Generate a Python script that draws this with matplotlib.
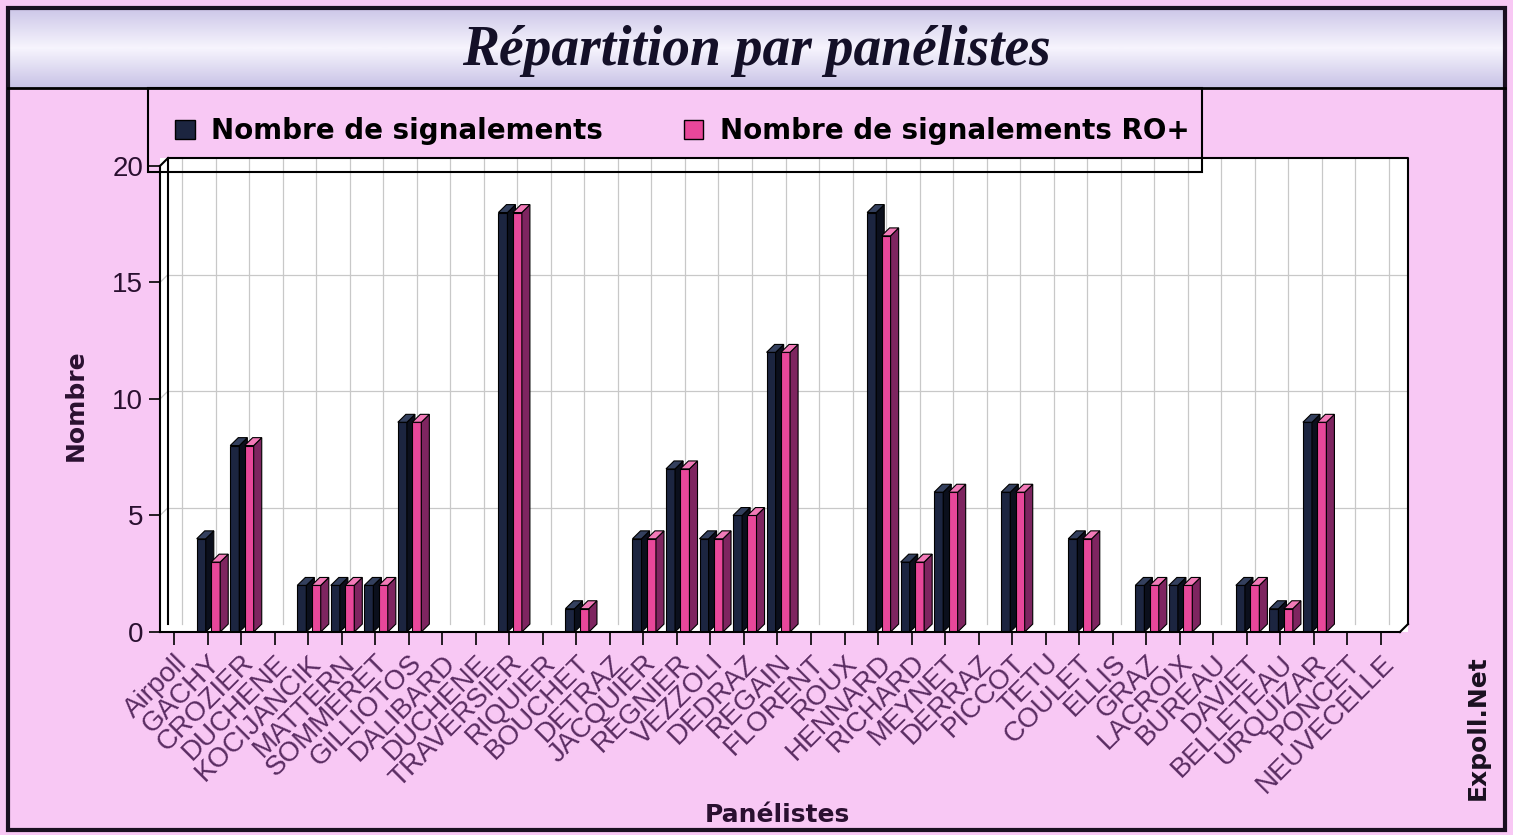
import numpy as np
import matplotlib.pyplot as plt
from matplotlib.patches import Rectangle, Patch
from matplotlib.colors import LinearSegmentedColormap

W, H = 1513, 835

panelistes = ['Airpoll', 'GACHY', 'CROZIER', 'DUCHENE', 'KOCIJANCIK', 'MATTERN',
              'SOMMERET', 'GILLIOTOS', 'DALIBARD', 'DUCHENE', 'TRAVERSIER', 'RIQUIER',
              'BOUCHET', 'DETRAZ', 'JACQUIER', 'REGNIER', 'VEZZOLI', 'DEDRAZ',
              'REGAIN', 'FLORENT', 'ROUX', 'HENNARD', 'RICHARD', 'MEYNET', 'DERRAZ',
              'PICCOT', 'TETU', 'COULET', 'ELLIS', 'GRAZ', 'LACROIX', 'BUREAU',
              'DAVIET', 'BELLETEAU', 'URQUIZAR', 'PONCET', 'NEUVECELLE']
signalements = [0, 4, 8, 0, 2, 2, 2, 9, 0, 0, 18, 0, 1, 0, 4, 7, 4, 5, 12, 0, 0,
                18, 3, 6, 0, 6, 0, 4, 0, 2, 2, 0, 2, 1, 9, 0, 0]
signalements_ro = [0, 3, 8, 0, 2, 2, 2, 9, 0, 0, 18, 0, 1, 0, 4, 7, 4, 5, 12, 0, 0,
                   17, 3, 6, 0, 6, 0, 4, 0, 2, 2, 0, 2, 1, 9, 0, 0]
series = ['Nombre de signalements', 'Nombre de signalements RO+']

rose = '#f8c8f4'
# face, cote, dessus
couleurs = [('#1c2540', '#0b0f1c', '#34405e'), ('#e8479a', '#7e2560', '#f27ab8')]

def fx(px):
    return px / W

def fy(py):
    return 1 - py / H

fig = plt.figure(figsize=(W / 100, H / 100), dpi=100, facecolor=rose)

# bande de titre
tax = fig.add_axes([fx(8), fy(88), fx(1505) - fx(8), fy(8) - fy(88)])
grad = np.concatenate([np.linspace(0.80, 1.0, 30), np.linspace(1.0, 0.78, 30)])[:, None]
lav = LinearSegmentedColormap.from_list('lav', ['#c8c2e6', '#f6f4fd'])
tax.imshow(grad, aspect='auto', cmap=lav, vmin=0.78, vmax=1.0, extent=[0, 1, 0, 1])
tax.set_axis_off()
tax.text(0.5, 0.46, 'Répartition par panélistes', ha='center', va='center',
         family='Liberation Serif', weight='bold', style='italic', fontsize=40,
         color='#141028', transform=tax.transAxes)

# cadre
fig.add_artist(Rectangle((fx(8), fy(830)), fx(1505) - fx(8), fy(8) - fy(830),
                         transform=fig.transFigure, fill=False, ec='#1a1020', lw=3))
fig.add_artist(plt.Line2D([fx(8), fx(1505)], [fy(88), fy(88)], color='black', lw=2))

# axe principal
x0, x1 = -0.42, 36.57
dx, dy = 0.24, 0.34
ax = fig.add_axes([fx(160), fy(632), fx(1408) - fx(160), fy(158) - fy(632)])
ax.set_facecolor('white')
ax.set_xlim(x0, x1 + dx)
ax.set_ylim(0, 20 + dy)
for s in ax.spines.values():
    s.set_visible(False)

x = np.arange(len(panelistes))
# grille du fond
for xi in np.append(x, x1):
    ax.plot([xi + dx, xi + dx], [dy, 20 + dy], color='#c8c8c8', lw=0.9, zorder=1)
for yv in [5, 10, 15]:
    ax.plot([x0 + dx, x1 + dx], [yv + dy, yv + dy], color='#c8c8c8', lw=0.9, zorder=1)
    ax.plot([x0, x0 + dx], [yv, yv + dy], color='#c8c8c8', lw=0.9, zorder=1)

# boite 3D
k = dict(color='black', lw=1.5, clip_on=False, zorder=5)
ax.plot([x0, x0], [0, 20], **k)
ax.plot([x0, x1], [0, 0], **k)
ax.plot([x0 + dx, x0 + dx, x1 + dx, x1 + dx], [dy, 20 + dy, 20 + dy, dy], **k)
ax.plot([x0, x0 + dx], [20, 20 + dy], **k)
ax.plot([x1, x1 + dx], [0, dy], **k)

w = 0.27
decal = [-0.19, 0.24]
for j, vals in enumerate([signalements, signalements_ro]):
    cf, cs, ct = couleurs[j]
    pos = x + decal[j]
    ax.bar(pos, vals, width=w, color=cf, edgecolor='black', lw=0.8, zorder=3 + j)
    for p, h in zip(pos, vals):
        if h == 0:
            continue
        a, b = p - w / 2, p + w / 2
        ax.fill([b, b + dx, b + dx, b], [0, dy, h + dy, h], color=cs, ec='black', lw=0.8, zorder=3 + j)
        ax.fill([a, a + dx, b + dx, b], [h, h + dy, h + dy, h], color=ct, ec='black', lw=0.8, zorder=3 + j)

ax.set_yticks([0, 5, 10, 15, 20])
ax.set_xticks(x)
ax.set_xticklabels(panelistes, rotation=45, ha='right', va='top', rotation_mode='anchor',
                   family='Liberation Sans', fontsize=20, color='#5a2c62')
ax.tick_params(axis='x', length=9, width=1.2, pad=4)
ax.tick_params(axis='y', length=8, width=1.2, labelsize=20, labelcolor='#2a1030', pad=4)
for t in ax.get_yticklabels():
    t.set_family('Liberation Sans')

fig.text(fx(76), fy(405), 'Nombre', rotation=90, ha='center', va='center',
         family='DejaVu Sans', weight='bold', fontsize=18, color='#2a1030')
fig.text(fx(777), fy(815), 'Panélistes', ha='center', va='center',
         family='DejaVu Sans', weight='bold', fontsize=18, color='#2a1030')
fig.text(fx(1478), fy(728), 'Expoll.Net', rotation=90, ha='center', va='center',
         family='DejaVu Sans', weight='bold', fontsize=18, color='#1a1020')

# legende
fig.add_artist(Rectangle((fx(148), fy(172)), fx(1202) - fx(148), fy(88) - fy(172),
                         transform=fig.transFigure, fill=False, ec='black', lw=1.5, zorder=10))
handles = [Patch(facecolor=c[0], edgecolor='black') for c in couleurs]
fig.legend(handles, series, loc='center left', bbox_to_anchor=(fx(164), fy(131)), ncol=2,
           frameon=False, handlelength=0.7, handleheight=0.7, handletextpad=0.6,
           columnspacing=2.9, borderaxespad=0,
           prop={'family': 'DejaVu Sans', 'weight': 'bold', 'size': 20})

fig.savefig('out.png', dpi=100, facecolor=rose)
